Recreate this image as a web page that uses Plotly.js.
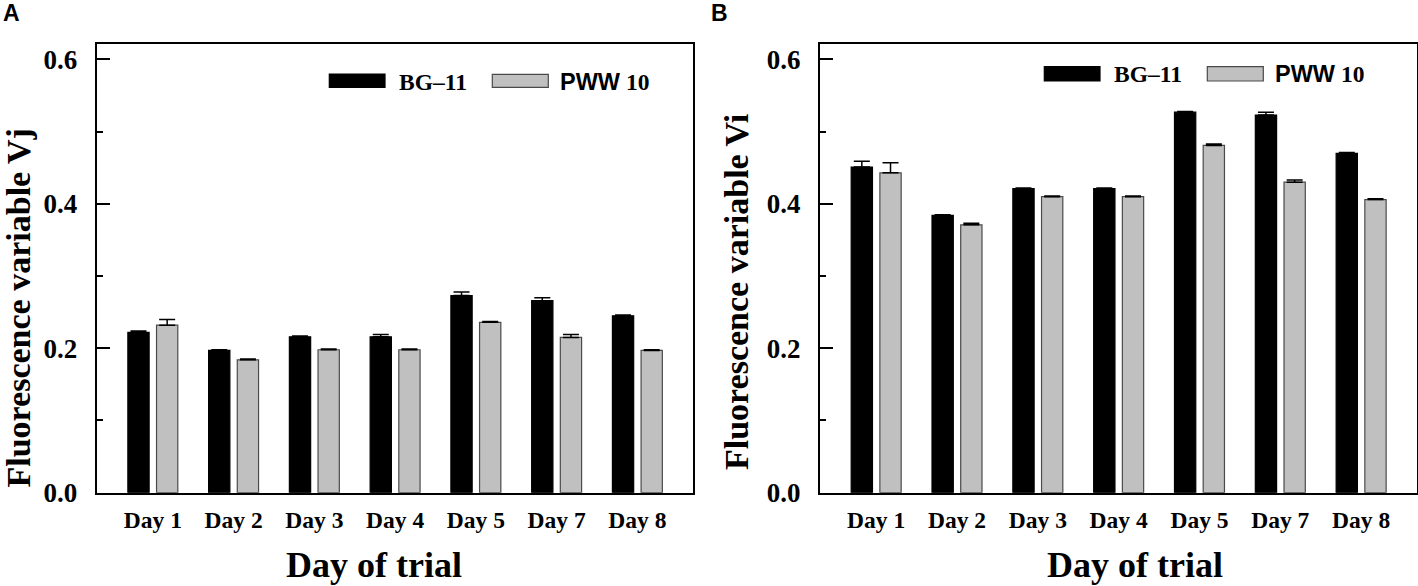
<!DOCTYPE html>
<html>
<head>
<meta charset="utf-8">
<script src="https://cdn.plot.ly/plotly-3.0.1.min.js"></script>
<style>
html,body{margin:0;padding:0;background:#fff;}
#chart{width:1418px;height:586px;}
</style>
</head>
<body>
<div id="chart"></div>
<script>
// ---- data ----
const days = ['Day 1','Day 2','Day 3','Day 4','Day 5','Day 7','Day 8'];
const seriesNames = ['BG\u201311','PWW 10'];

// Panel A: Fluorescence variable Vj
const vjBG      = [0.222, 0.197, 0.216, 0.216, 0.273, 0.266, 0.245];
const vjBGerr   = [0.002, 0.001, 0.001, 0.003, 0.005, 0.004, 0.001];
const vjPWW     = [0.232, 0.184, 0.198, 0.198, 0.236, 0.215, 0.197];
const vjPWWerr  = [0.008, 0.001, 0.001, 0.001, 0.001, 0.004, 0.001];

// Panel B: Fluorescence variable Vi
const viBG      = [0.451, 0.384, 0.421, 0.421, 0.527, 0.523, 0.470];
const viBGerr   = [0.008, 0.001, 0.001, 0.001, 0.001, 0.004, 0.001];
const viPWW     = [0.443, 0.371, 0.410, 0.410, 0.481, 0.430, 0.406];
const viPWWerr  = [0.014, 0.002, 0.001, 0.001, 0.002, 0.003, 0.001];

const yTicks = [0, 0.2, 0.4, 0.6];
const yTickText = ['0.0', '0.2', '0.4', '0.6'];

// ---- styling ----
const W = 1418, H = 586;
const serif = 'Liberation Serif, Times New Roman, serif';
const sans = 'Liberation Sans, Arial, sans-serif';
const colBG = '#000000';
const colPWW = '#c0c0c0';

function zeros(n){ return new Array(n).fill(0); }
function px(x){ return x / W; }
function py(y){ return 1 - y / H; }

function barTrace(y, err, name, color, lineColor, xa, ya){
  return {
    type: 'bar', x: days, y: y, name: name,
    xaxis: xa, yaxis: ya, showlegend: false,
    marker: {color: color, line: {color: lineColor, width: 1.2}},
    error_y: {type: 'data', symmetric: false, array: err, arrayminus: zeros(err.length),
              color: '#000', thickness: 1.5, width: 8, visible: true},
    hoverinfo: 'x+y+name'
  };
}

const data = [
  barTrace(vjBG, vjBGerr, seriesNames[0], colBG, '#000', 'x', 'y'),
  barTrace(vjPWW, vjPWWerr, seriesNames[1], colPWW, '#4a4a4a', 'x', 'y'),
  barTrace(viBG, viBGerr, seriesNames[0], colBG, '#000', 'x2', 'y2'),
  barTrace(viPWW, viPWWerr, seriesNames[1], colPWW, '#4a4a4a', 'x2', 'y2')
];

function xAxis(domain, anchor){
  return {
    domain: domain, anchor: anchor, type: 'category',
    range: [-0.695, 6.685],
    showline: true, linecolor: '#000', linewidth: 2, mirror: true,
    ticks: '', showgrid: false, zeroline: false,
    tickfont: {family: serif, size: 23.5, color: '#000', weight: 'bold'},
    ticklabelstandoff: 5
  };
}
function yAxis(anchor){
  return {
    domain: [py(492.7), py(44.3)], anchor: anchor,
    range: [0, 0.621],
    tickvals: yTicks, ticktext: yTickText,
    ticks: 'inside', ticklen: 13, tickwidth: 2, tickcolor: '#000',
    minor: {tickvals: [0.1, 0.3, 0.5], ticks: 'inside', ticklen: 6, tickwidth: 2, tickcolor: '#000'},
    showline: true, linecolor: '#000', linewidth: 2, mirror: true,
    showgrid: false, zeroline: false,
    tickfont: {family: serif, size: 27, color: '#000', weight: 'bold'},
    ticklabelstandoff: 12
  };
}

// custom legend swatches (paper coords)
function rect(x0, x1, y0, y1, fill, line){
  return {type: 'rect', xref: 'paper', yref: 'paper',
          x0: px(x0), x1: px(x1), y0: py(y1), y1: py(y0),
          fillcolor: fill, line: {color: line, width: 1.2}};
}
const shapes = [
  rect(329.3, 385, 74, 87.3, colBG, '#000'),
  rect(492.3, 548.3, 74.3, 87.3, colPWW, '#4a4a4a'),
  rect(1044.3, 1100, 66.7, 81, colBG, '#000'),
  rect(1207.3, 1263.3, 66.7, 81, colPWW, '#4a4a4a')
];

function ann(text, x, y, opts){
  return Object.assign({
    text: text, xref: 'paper', yref: 'paper', x: px(x), y: py(y),
    showarrow: false, xanchor: 'center', yanchor: 'middle',
    font: {family: serif, size: 22, color: '#000', weight: 'bold'}
  }, opts || {});
}
const pww = '<span style="font-family:Liberation Sans, Arial, sans-serif">PWW</span> 10';
const annotations = [
  ann('A', 1, 13.5, {xanchor: 'left', font: {family: sans, size: 23, color: '#000', weight: 'bold'}}),
  ann('B', 709, 13.5, {xanchor: 'left', font: {family: sans, size: 23, color: '#000', weight: 'bold'}}),
  ann('Fluorescence variable Vj', 17.5, 308, {textangle: -90, font: {family: serif, size: 34, color: '#000', weight: 'bold'}}),
  ann('Fluorescence variable Vi', 736, 292, {textangle: -90, font: {family: serif, size: 34, color: '#000', weight: 'bold'}}),
  ann('Day of trial', 374, 565, {font: {family: serif, size: 36, color: '#000', weight: 'bold'}}),
  ann('Day of trial', 1135, 565, {font: {family: serif, size: 36, color: '#000', weight: 'bold'}}),
  ann(seriesNames[0], 397, 81.5, {xanchor: 'left', font: {family: serif, size: 23.5, color: '#000', weight: 'bold'}}),
  ann(pww, 558, 81.5, {xanchor: 'left', font: {family: serif, size: 23.5, color: '#000', weight: 'bold'}}),
  ann(seriesNames[0], 1112, 74.5, {xanchor: 'left', font: {family: serif, size: 23.5, color: '#000', weight: 'bold'}}),
  ann(pww, 1273, 74.5, {xanchor: 'left', font: {family: serif, size: 23.5, color: '#000', weight: 'bold'}})
];

const layout = {
  width: W, height: H,
  margin: {l: 0, r: 0, t: 0, b: 0},
  paper_bgcolor: '#fff', plot_bgcolor: '#fff',
  barmode: 'group', bargap: 0.29, bargroupgap: 0.258,
  showlegend: false,
  xaxis: xAxis([px(96.7), px(692.7)], 'y'),
  yaxis: yAxis('x'),
  xaxis2: xAxis([px(820), px(1416.5)], 'y2'),
  yaxis2: yAxis('x2'),
  shapes: shapes,
  annotations: annotations,
  font: {family: serif, color: '#000'}
};

Plotly.newPlot('chart', data, layout, {displayModeBar: false, staticPlot: true});
</script>
</body>
</html>
